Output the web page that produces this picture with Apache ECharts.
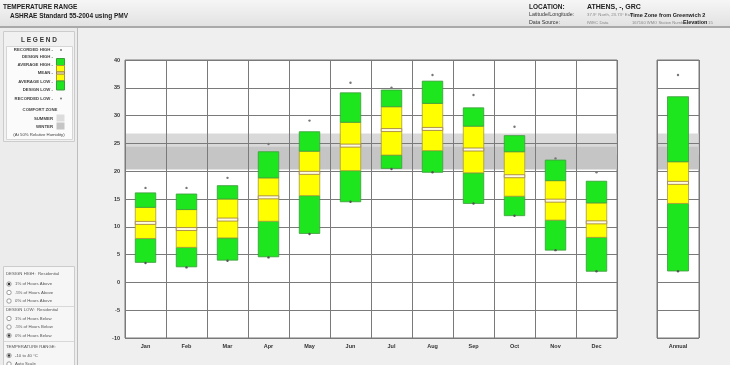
<!DOCTYPE html>
<html><head><meta charset="utf-8">
<script src="https://cdn.jsdelivr.net/npm/echarts@6.0.0/dist/echarts.min.js"></script>
<style>html,body{margin:0;padding:0;background:#efefef;}#c{width:730px;height:365px;}</style>
</head><body><div id="c"></div><script>
// ---- data ----
const months = ['Jan','Feb','Mar','Apr','May','Jun','Jul','Aug','Sep','Oct','Nov','Dec'];
const recordedHigh = [17.0,17.0,18.8,24.9,29.1,35.9,35.0,37.3,33.7,28.0,22.3,19.8];
const designHigh   = [16.1,15.9,17.4,23.5,27.1,34.1,34.6,36.2,31.4,26.4,22.0,18.2];
const averageHigh  = [13.5,13.1,15.0,18.8,23.6,28.8,31.6,32.2,28.1,23.5,18.3,14.3];
const meanTemp     = [10.7,9.6,11.3,15.3,19.7,24.6,27.4,27.6,23.9,19.1,14.7,10.8];
const averageLow   = [7.9,6.3,8.0,11.0,15.6,20.1,22.9,23.7,19.7,15.5,11.2,8.1];
const designLow    = [3.6,2.8,4.0,4.6,8.8,14.5,20.5,19.8,14.2,12.0,5.8,2.0];
const recordedLow  = [3.5,2.7,3.9,4.5,8.7,14.5,20.4,19.8,14.2,12.0,5.8,2.0];
const annualCategory = ['Annual'];
const annualRecordedHigh = [37.3];
const annualDesignHigh = [33.4];
const annualAverageHigh = [21.7];
const annualMean = [17.9];
const annualAverageLow = [14.2];
const annualDesignLow = [2.05];
const annualRecordedLow = [2.0];
const comfortSummer = [23.0, 26.8];
const comfortWinter = [20.3, 24.4];
const yMin = -10, yMax = 40, yStep = 5;

// ---- build ----
const FONT = '"Liberation Sans", Arial, sans-serif';
const GREEN = '#1ee61e', YELLOW = '#ffff00';
const boxData = months.map((m,i)=>[i, designLow[i], averageLow[i], meanTemp[i], averageHigh[i], designHigh[i], recordedHigh[i], recordedLow[i]]);
const annualData = annualCategory.map((m,i)=>[i, annualDesignLow[i], annualAverageLow[i], annualMean[i], annualAverageHigh[i], annualDesignHigh[i], annualRecordedHigh[i], annualRecordedLow[i]]);
const bandData = [[0, comfortSummer[0], comfortSummer[1]], [0, comfortWinter[0], comfortWinter[1]]];

function renderBox(params, api){
  const x = api.value(0);
  const p = k => api.coord([x, api.value(k)]);
  const lo = p(1), aLo = p(2), mn = p(3), aHi = p(4), hi = p(5), rH = p(6), rL = p(7);
  const w = api.size([1,0])[0]*0.5;
  const left = lo[0]-w/2;
  const seg = (y1,y2,fill,stroke)=>({type:'rect', shape:{x:left, y:y1, width:w, height:y2-y1}, style:{fill:fill, stroke:stroke, lineWidth:0.8}});
  return {type:'group', children:[
    seg(aLo[1], lo[1], GREEN, '#3c9a3c'),
    seg(aHi[1], aLo[1], YELLOW, '#a89a3a'),
    seg(hi[1], aHi[1], GREEN, '#3c9a3c'),
    {type:'rect', shape:{x:left, y:mn[1]-1.5, width:w, height:3}, style:{fill:'#fffbe0', stroke:'#9a7840', lineWidth:0.8}},
    {type:'circle', shape:{cx:rH[0], cy:rH[1], r:1.2}, style:{fill:'#777'}},
    {type:'circle', shape:{cx:rL[0], cy:rL[1], r:1.2}, style:{fill:'#555'}}
  ]};
}
function renderBand(params, api){
  const cs = params.coordSys;
  const top = api.coord([0, api.value(2)])[1];
  const bot = api.coord([0, api.value(1)])[1];
  return {type:'rect', shape:{x:cs.x+0.5, y:top, width:cs.width-1, height:bot-top},
    style:{fill: params.dataIndex===0 ? '#d9d9d9' : '#c5c5c5'}};
}

const txt = (x,y,s,font,fill,align)=>({type:'text', x:x, y:y, silent:true,
  style:{text:s, font:font+' '+FONT, fill:fill||'#222', align:align||'left', verticalAlign:'middle'}});
const rect = (x,y,w,h,fill,stroke)=>({type:'rect', silent:true, shape:{x:x,y:y,width:w,height:h}, style:{fill:fill, stroke:stroke||null, lineWidth:1}});
const radio = (x,y,on)=>{
  const g=[{type:'circle', silent:true, shape:{cx:x,cy:y,r:2.2}, style:{fill:'#fff', stroke:'#777', lineWidth:0.7}}];
  if(on) g.push({type:'circle', silent:true, shape:{cx:x,cy:y,r:1.2}, style:{fill:'#333'}});
  return g;
};

const graphics = [
  {type:'rect', silent:true, shape:{x:0,y:0,width:730,height:26},
    style:{fill:new echarts.graphic.LinearGradient(0,0,0,1,[{offset:0,color:'#f6f6f6'},{offset:1,color:'#e2e2e2'}])}},
  rect(0,26,730,2,'#a9a9a9'),
  txt(3,7,'TEMPERATURE RANGE','bold 6.5px'),
  txt(10,16,'ASHRAE Standard 55-2004 using PMV','bold 6.5px'),
  txt(529,7,'LOCATION:','bold 6.5px'),
  txt(587,7,'ATHENS, -, GRC','bold 7px'),
  txt(529,15,'Latitude/Longitude:','5.3px','#333'),
  txt(587,15,'37.9° North, 23.73° East,','4.3px','#888'),
  txt(630,15,'Time Zone from Greenwich 2','bold 5.5px','#222'),
  txt(529,22.5,'Data Source:','5.3px','#333'),
  txt(587,22.5,'IWEC Data','4.3px','#888'),
  txt(632,22.5,'167160 WMO Station Number,','4.1px','#888'),
  txt(683,22.5,'Elevation','bold 5.5px','#222'),
  txt(708,22.5,'15','4.3px','#888'),
  // left panel
  rect(0,28,77,337,'#ececec'),
  rect(77,28,1,337,'#bdbdbd'),
  rect(3.5,31.5,71,110,'#f1f1f1','#cccccc'),
  txt(39,40,'L E G E N D','bold 6.5px','#333','center'),
  rect(6.5,46.5,66,93,'#fbfbfb','#d6d6d6'),
  txt(53,50,'RECORDED HIGH -','bold 4.3px','#444','right'),
  txt(53,57,'DESIGN HIGH -','bold 4.3px','#444','right'),
  txt(53,64.5,'AVERAGE HIGH -','bold 4.3px','#444','right'),
  txt(53,73,'MEAN -','bold 4.3px','#444','right'),
  txt(53,81.5,'AVERAGE LOW -','bold 4.3px','#444','right'),
  txt(53,90,'DESIGN LOW -','bold 4.3px','#444','right'),
  txt(53,98.5,'RECORDED LOW -','bold 4.3px','#444','right'),
  {type:'circle', silent:true, shape:{cx:61,cy:50,r:1}, style:{fill:'#777'}},
  {type:'circle', silent:true, shape:{cx:61,cy:98.5,r:1}, style:{fill:'#777'}},
  rect(56.5,58.5,8,7,GREEN,'#3c9a3c'),
  rect(56.5,65.5,8,6.5,YELLOW,'#a89a3a'),
  rect(56.5,72,8,2.2,'#fffbe0','#9a7840'),
  rect(56.5,74.2,8,6.8,YELLOW,'#a89a3a'),
  rect(56.5,81,8,9,GREEN,'#3c9a3c'),
  txt(40,110,'COMFORT ZONE','bold 4.3px','#444','center'),
  txt(53,118.5,'SUMMER','bold 4.3px','#444','right'),
  rect(56.5,114.5,8,7,'#dcdcdc'),
  txt(53,126.5,'WINTER','bold 4.3px','#444','right'),
  rect(56.5,122.5,8,7,'#c5c5c5'),
  txt(39,134.5,'(At 50% Relative Humidity)','4.3px','#444','center'),
  // lower left box
  rect(3.5,266.5,71,99,'#f6f6f6','#cccccc'),
  txt(6,274,'DESIGN HIGH:  Residential','4.3px','#555'),
  ...radio(9,284,true), txt(15,284,'1% of Hours Above','4.3px','#555'),
  ...radio(9,292.5,false), txt(15,292.5,'.5% of Hours Above','4.3px','#555'),
  ...radio(9,301,false), txt(15,301,'0% of Hours Above','4.3px','#555'),
  rect(4,306,70,1,'#d8d8d8'),
  txt(6,310,'DESIGN LOW:  Residential','4.3px','#555'),
  ...radio(9,318.5,false), txt(15,318.5,'1% of Hours Below','4.3px','#555'),
  ...radio(9,327,false), txt(15,327,'.5% of Hours Below','4.3px','#555'),
  ...radio(9,335.5,true), txt(15,335.5,'0% of Hours Below','4.3px','#555'),
  rect(4,341,70,1,'#d8d8d8'),
  txt(6,346.5,'TEMPERATURE RANGE:','4.3px','#555'),
  ...radio(9,355.5,true), txt(15,355.5,'-10 to 40 °C','4.3px','#555'),
  ...radio(9,364,false), txt(15,364,'Auto Scale','4.3px','#555')
];

const yAxisBase = {type:'value', min:yMin, max:yMax, interval:yStep, z:1.5,
  axisLine:{show:false}, axisTick:{show:false},
  splitLine:{show:true, lineStyle:{color:'#7a7a7a', width:1}}};
const xAxisBase = {type:'category', boundaryGap:true, z:1.5,
  axisLine:{show:false}, axisTick:{show:false},
  splitLine:{show:true, interval:0, lineStyle:{color:'#7a7a7a', width:1}},
  axisLabel:{interval:0, fontSize:5.5, fontWeight:'bold', color:'#333', fontFamily:FONT, margin:5}};

const option = {
  backgroundColor:'#efefef',
  animation:false,
  graphic:graphics,
  grid:[
    {left:125, top:60, width:492, height:278, show:true, backgroundColor:'#fff', borderColor:'#7a7a7a', borderWidth:1},
    {left:657, top:60, width:42, height:278, show:true, backgroundColor:'#fff', borderColor:'#7a7a7a', borderWidth:1}
  ],
  xAxis:[
    Object.assign({}, xAxisBase, {gridIndex:0, data:months}),
    Object.assign({}, xAxisBase, {gridIndex:1, data:annualCategory})
  ],
  yAxis:[
    Object.assign({}, yAxisBase, {gridIndex:0, axisLabel:{fontSize:5.5, fontWeight:'bold', color:'#333', fontFamily:FONT, margin:5}}),
    Object.assign({}, yAxisBase, {gridIndex:1, axisLabel:{show:false}})
  ],
  series:[
    {type:'custom', xAxisIndex:0, yAxisIndex:0, z:1, renderItem:renderBand, data:bandData, silent:true},
    {type:'custom', xAxisIndex:1, yAxisIndex:1, z:1, renderItem:renderBand, data:bandData, silent:true},
    {type:'custom', xAxisIndex:0, yAxisIndex:0, z:2, renderItem:renderBox, data:boxData, encode:{x:0, y:[1,2,3,4,5,6,7]}},
    {type:'custom', xAxisIndex:1, yAxisIndex:1, z:2, renderItem:renderBox, data:annualData, encode:{x:0, y:[1,2,3,4,5,6,7]}}
  ]
};
const chart = echarts.init(document.getElementById('c'), null, {renderer:'canvas'});
chart.setOption(option);
</script></body></html>
